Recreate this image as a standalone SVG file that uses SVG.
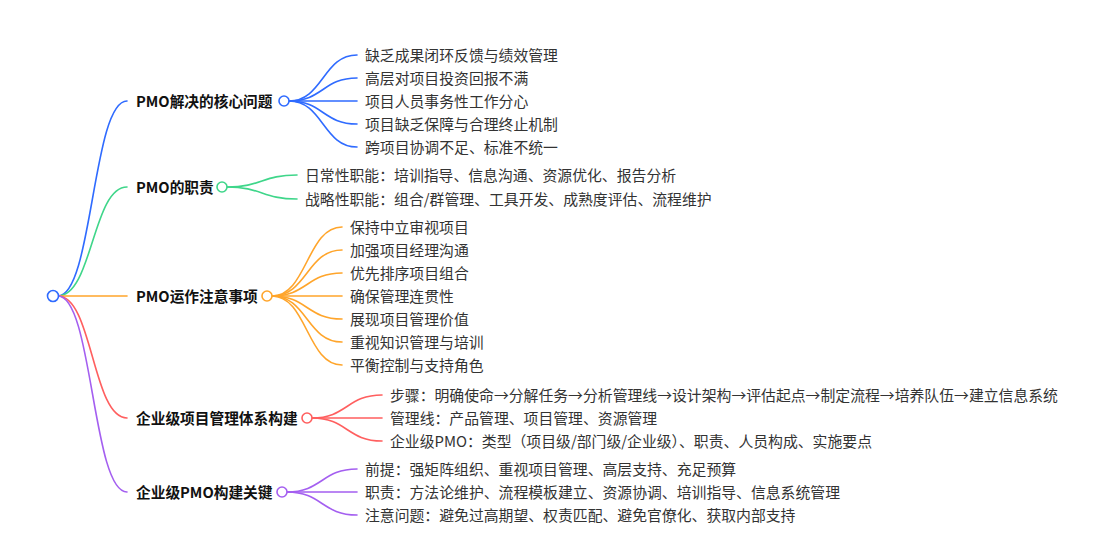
<svg xmlns="http://www.w3.org/2000/svg" width="1107" height="556" viewBox="0 0 1107 556">
<style>
text{font-family:"Noto Sans CJK SC","Noto Sans",sans-serif;font-size:14.85px;dominant-baseline:central}
.l1{font-weight:bold;fill:#111;font-size:14.7px}
.l2{fill:#333}
.c{fill:none;stroke-width:1.6;stroke-linecap:round}
.dot{fill:#fff;stroke-width:1.6}
.b{stroke:#2f6bff}.g{stroke:#3fd68a}.o{stroke:#ffa52b}.r{stroke:#ff5f5f}.p{stroke:#a45ff0}
</style>
<rect width="1107" height="556" fill="#fff"/>
<g id="connectors">
<path class="c b" d="M58 296C92.5 296 92.5 101 127 101"/>
<path class="c g" d="M58 296C92.5 296 92.5 187 127 187"/>
<path class="c o" d="M58 296L127 296"/>
<path class="c r" d="M58 296C92.5 296 92.5 418 127 418"/>
<path class="c p" d="M58 296C92.5 296 92.5 492 127 492"/>
<path class="c b" d="M289 101C323 101 323 55 357 55"/>
<path class="c b" d="M289 101C323 101 323 78 357 78"/>
<path class="c b" d="M289 101L357 101"/>
<path class="c b" d="M289 101C323 101 323 124 357 124"/>
<path class="c b" d="M289 101C323 101 323 147 357 147"/>
<path class="c g" d="M227 187C262 187 262 175 297 175"/>
<path class="c g" d="M227 187C262 187 262 199 297 199"/>
<path class="c o" d="M272 296C307 296 307 227 342 227"/>
<path class="c o" d="M272 296C307 296 307 250 342 250"/>
<path class="c o" d="M272 296C307 296 307 273 342 273"/>
<path class="c o" d="M272 296L342 296"/>
<path class="c o" d="M272 296C307 296 307 319 342 319"/>
<path class="c o" d="M272 296C307 296 307 342 342 342"/>
<path class="c o" d="M272 296C307 296 307 365 342 365"/>
<path class="c r" d="M312 418C347 418 347 395 382 395"/>
<path class="c r" d="M312 418L382 418"/>
<path class="c r" d="M312 418C347 418 347 441 382 441"/>
<path class="c p" d="M287 492C322 492 322 469 357 469"/>
<path class="c p" d="M287 492L357 492"/>
<path class="c p" d="M287 492C322 492 322 515 357 515"/>
</g>
<g id="root"><circle class="dot b" cx="53" cy="296" r="5.5"/></g>
<g id="n1">
<text class="l1" x="136" y="100">PMO解决的核心问题</text>
<circle class="dot b" cx="284" cy="101" r="5"/>
</g>
<g id="n1c">
<text class="l2" x="365" y="54">缺乏成果闭环反馈与绩效管理</text>
<text class="l2" x="365" y="77">高层对项目投资回报不满</text>
<text class="l2" x="365" y="100">项目人员事务性工作分心</text>
<text class="l2" x="365" y="123">项目缺乏保障与合理终止机制</text>
<text class="l2" x="365" y="146">跨项目协调不足、标准不统一</text>
</g>
<g id="n2">
<text class="l1" x="136" y="186">PMO的职责</text>
<circle class="dot g" cx="222" cy="187" r="5"/>
</g>
<g id="n2c">
<text class="l2" x="305" y="174">日常性职能：培训指导、信息沟通、资源优化、报告分析</text>
<text class="l2" x="305" y="198">战略性职能：组合/群管理、工具开发、成熟度评估、流程维护</text>
</g>
<g id="n3">
<text class="l1" x="136" y="295">PMO运作注意事项</text>
<circle class="dot o" cx="267" cy="296" r="5"/>
</g>
<g id="n3c">
<text class="l2" x="350" y="226">保持中立审视项目</text>
<text class="l2" x="350" y="249">加强项目经理沟通</text>
<text class="l2" x="350" y="272">优先排序项目组合</text>
<text class="l2" x="350" y="295">确保管理连贯性</text>
<text class="l2" x="350" y="318">展现项目管理价值</text>
<text class="l2" x="350" y="341">重视知识管理与培训</text>
<text class="l2" x="350" y="364">平衡控制与支持角色</text>
</g>
<g id="n4">
<text class="l1" x="136" y="417">企业级项目管理体系构建</text>
<circle class="dot r" cx="307" cy="418" r="5"/>
</g>
<g id="n4c">
<text class="l2" x="390" y="394">步骤：明确使命→分解任务→分析管理线→设计架构→评估起点→制定流程→培养队伍→建立信息系统</text>
<text class="l2" x="390" y="417">管理线：产品管理、项目管理、资源管理</text>
<text class="l2" x="390" y="440">企业级PMO：类型（项目级/部门级/企业级）、职责、人员构成、实施要点</text>
</g>
<g id="n5">
<text class="l1" x="136" y="491">企业级PMO构建关键</text>
<circle class="dot p" cx="282" cy="492" r="5"/>
</g>
<g id="n5c">
<text class="l2" x="365" y="468">前提：强矩阵组织、重视项目管理、高层支持、充足预算</text>
<text class="l2" x="365" y="491">职责：方法论维护、流程模板建立、资源协调、培训指导、信息系统管理</text>
<text class="l2" x="365" y="514">注意问题：避免过高期望、权责匹配、避免官僚化、获取内部支持</text>
</g>
</svg>
